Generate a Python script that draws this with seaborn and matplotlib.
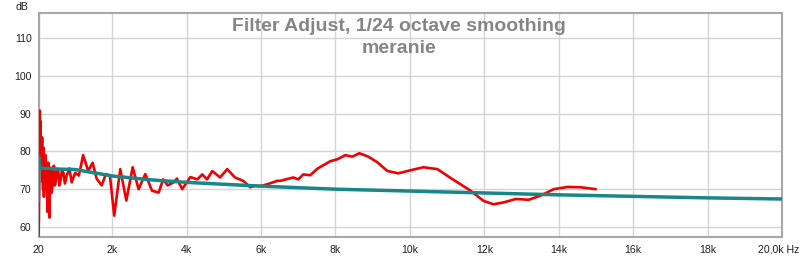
import matplotlib
matplotlib.use("Agg")
import matplotlib.pyplot as plt
import seaborn as sns
import pandas as pd

# measured response (red)
meas_freq = [20, 30, 45, 55, 62, 70, 80, 90, 100, 117, 128, 136, 143, 150, 165, 180, 196, 210, 223,
             240, 258, 270, 285, 300, 312, 330, 347, 370, 400, 420, 438, 460, 492, 520, 554, 580,
             616, 650, 689, 730, 778, 850, 912, 1004, 1105, 1220, 1355, 1475, 1582, 1717, 1832, 1940,
             2055, 2217, 2380, 2550, 2710, 2890, 3070, 3250, 3370, 3490, 3650, 3740, 3880, 4100,
             4290, 4420, 4550, 4690, 4900, 5090, 5300, 5520, 5710, 5840, 5980, 6170, 6435, 6515,
             6866, 7000, 7135, 7323, 7512, 7862, 8050, 8265, 8454, 8642, 8884, 9127, 9396, 9692,
             10015, 10365, 10742, 11011, 11630, 11980, 12250, 12519, 12842, 13192, 13515, 13865,
             14242, 14592, 14996]
meas_db = [57.5, 62, 80, 90.8, 84, 88, 79, 83, 76, 83.7, 72, 78, 70, 81, 68, 77, 71, 79, 70,
           77, 64, 74, 77, 68, 62.5, 73, 75.7, 69, 71.3, 76, 76.2, 71, 72.6, 75, 74.7, 71,
           72.6, 75, 74.3, 71.5, 73.6, 75.5, 71.8, 74.3, 73.6, 79, 74.8, 77, 72.8, 71, 74, 73.5,
           63, 75.3, 67, 75.8, 70, 74, 69.6, 69.1, 72.6, 71, 71.8, 72.8, 70, 73.2,
           72.6, 73.9, 72.6, 74.8, 73.1, 75.3, 73.1, 72.2, 70.5, 70.9, 70.8, 71.3, 72.2, 72.2,
           73.1, 72.6, 73.9, 73.7, 75.4, 77.4, 77.9, 79, 78.6, 79.5, 78.6, 77.1, 74.8, 74.2,
           75, 75.8, 75.3, 73.5, 69.6, 66.9, 66.0, 66.5, 67.4, 67.2, 68.3, 70,
           70.6, 70.5, 70.0]

# target curve (teal)
target_freq = [20, 30, 60, 200, 600, 1000, 2000, 3000, 4000, 6000, 8000, 10000, 12000, 14000,
               16000, 18000, 20000]
target_db = [67, 78.5, 75.6, 75.5, 75.3, 75.2, 73.5, 72.5, 71.8, 70.8, 70.0, 69.5, 69.0, 68.5,
             68.1, 67.7, 67.4]

xticks = [20, 2000, 4000, 6000, 8000, 10000, 12000, 14000, 16000, 18000, 20000]
xtick_labels = ["20", "2k", "4k", "6k", "8k", "10k", "12k", "14k", "16k", "18k", ""]
last_xlabel = "20,0k Hz"
yticks = [60, 70, 80, 90, 100, 110]

sns.set_style("whitegrid")
plt.rcParams["font.family"] = ["Liberation Sans", "DejaVu Sans"]

W, H = 800, 257
fig = plt.figure(figsize=(8.0, 2.57), dpi=100)
ax = fig.add_axes([38.5 / W, 1 - 237 / H, (782 - 38.5) / W, (237 - 13) / H])

df_meas = pd.DataFrame({"f": meas_freq, "db": meas_db})
df_tgt = pd.DataFrame({"f": target_freq, "db": target_db})
sns.lineplot(data=df_meas, x="f", y="db", ax=ax, color="#f00000", lw=1.9, sort=False, zorder=3)
sns.lineplot(data=df_tgt, x="f", y="db", ax=ax, color="#178787", lw=2.5, sort=False, zorder=4)

ax.set_xlim(20, 20000)
ax.set_ylim(57.35, 116.6)
ax.set_xticks(xticks)
ax.set_xticklabels(xtick_labels)
ax.set_yticks(yticks)
ax.set_xlabel("")
ax.set_ylabel("")
ax.tick_params(axis="both", length=0, labelsize=7.6, colors="#202020")
ax.tick_params(axis="x", pad=6)
ax.tick_params(axis="y", pad=5)
ax.grid(True, color="#d4d4d4", lw=1.0)
for s in ax.spines.values():
    s.set_color("#a8a8a8")
    s.set_linewidth(1.5)
    s.set_visible(True)

fig.text(399 / W, 1 - 30.7 / H, "Filter Adjust, 1/24 octave smoothing", ha="center", va="baseline",
         fontsize=14, fontweight="bold", color="#858585", zorder=5)
fig.text(399 / W, 1 - 53 / H, "meranie", ha="center", va="baseline",
         fontsize=14, fontweight="bold", color="#858585", zorder=5)
fig.text(15 / W, 1 - 10 / H, "dB", fontsize=7.6, color="#202020", ha="left", va="baseline")
fig.text(799 / W, 1 - 244.5 / H, last_xlabel, fontsize=7.6, color="#202020", ha="right", va="top")

fig.savefig("out.png", dpi=100)
